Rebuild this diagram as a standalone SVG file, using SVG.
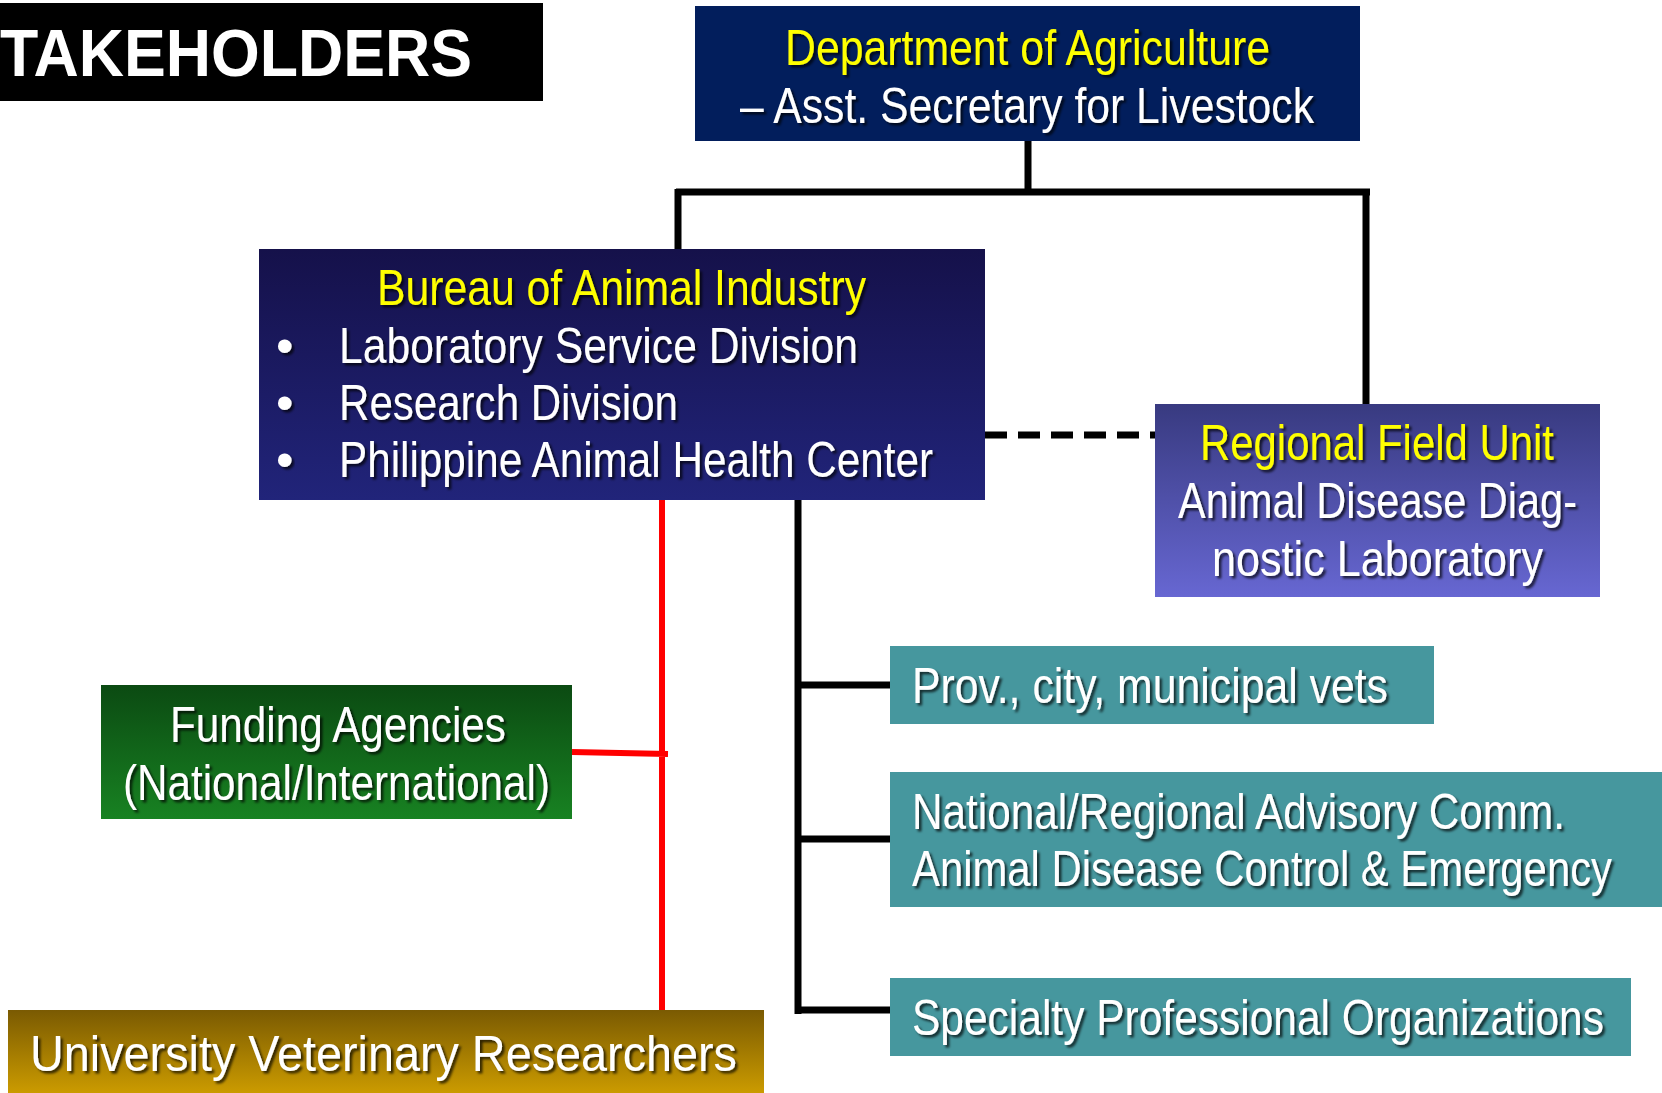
<svg xmlns="http://www.w3.org/2000/svg" width="1662" height="1093" viewBox="0 0 1662 1093">
<defs>
<linearGradient id="gBai" x1="0" y1="0" x2="0" y2="1"><stop offset="0" stop-color="#15114a"/><stop offset="1" stop-color="#21247a"/></linearGradient>
<linearGradient id="gRfu" x1="0" y1="0" x2="0" y2="1"><stop offset="0" stop-color="#383a80"/><stop offset="1" stop-color="#6767d2"/></linearGradient>
<linearGradient id="gFund" x1="0" y1="0" x2="0" y2="1"><stop offset="0" stop-color="#0b4a12"/><stop offset="1" stop-color="#188222"/></linearGradient>
<linearGradient id="gUni" x1="0" y1="0" x2="0" y2="1"><stop offset="0" stop-color="#7a5a02"/><stop offset="1" stop-color="#cb9b00"/></linearGradient>
<filter id="sh" x="-5%" y="-20%" width="110%" height="140%"><feDropShadow dx="2.5" dy="2.5" stdDeviation="1.2" flood-color="#000" flood-opacity="0.7"/></filter>
</defs>
<style>
.t{font-family:"Liberation Sans Narrow","Arial Narrow","Liberation Sans",sans-serif;font-size:50px;filter:url(#sh)}
.w{fill:#ffffff}
.y{fill:#ffff00}
.ln{stroke:#000;stroke-width:7;fill:none}
.red{stroke:#ff0000;stroke-width:6;fill:none}
.teal{fill:#46979e}
</style>
<rect width="1662" height="1093" fill="#ffffff"/>

<g id="title">
<rect x="0" y="3" width="543" height="98" fill="#000"/>
<text x="0" y="76" font-family="Liberation Sans,Arial,sans-serif" font-weight="bold" font-size="66" fill="#fff" textLength="472" lengthAdjust="spacingAndGlyphs">TAKEHOLDERS</text>
</g>

<g id="connectors">
<path class="ln" d="M1028,141 V193 M676,192 H1370 M678,189 V249 M1366,189 V404"/>
<path class="ln" d="M985,435 H1155" stroke-dasharray="22,11"/>
<path class="ln" d="M798,500 V1014 M795,685 H890 M795,839 H890 M795,1010 H890"/>
<path class="red" d="M662,500 V1010 M572,752 L668,754"/>
</g>

<g id="da">
<rect x="695" y="6" width="665" height="135" fill="#021e5c"/>
<text class="t y" x="785" y="65" textLength="485" lengthAdjust="spacingAndGlyphs">Department of Agriculture</text>
<text class="t w" x="740" y="123" textLength="574" lengthAdjust="spacingAndGlyphs">– Asst. Secretary for Livestock</text>
</g>

<g id="bai">
<rect x="259" y="249" width="726" height="251" fill="url(#gBai)"/>
<text class="t y" x="377" y="305" textLength="489" lengthAdjust="spacingAndGlyphs">Bureau of Animal Industry</text>
<text class="t w" x="276" y="363">•</text>
<text class="t w" x="339" y="363" textLength="519" lengthAdjust="spacingAndGlyphs">Laboratory Service Division</text>
<text class="t w" x="276" y="420">•</text>
<text class="t w" x="339" y="420" textLength="339" lengthAdjust="spacingAndGlyphs">Research Division</text>
<text class="t w" x="276" y="477">•</text>
<text class="t w" x="339" y="477" textLength="594" lengthAdjust="spacingAndGlyphs">Philippine Animal Health Center</text>
</g>

<g id="rfu">
<rect x="1155" y="404" width="445" height="193" fill="url(#gRfu)"/>
<text class="t y" x="1200" y="460" textLength="354" lengthAdjust="spacingAndGlyphs">Regional Field Unit</text>
<text class="t w" x="1178" y="518" textLength="399" lengthAdjust="spacingAndGlyphs">Animal Disease Diag-</text>
<text class="t w" x="1212" y="576" textLength="331" lengthAdjust="spacingAndGlyphs">nostic Laboratory</text>
</g>

<g id="funding">
<rect x="101" y="685" width="471" height="134" fill="url(#gFund)"/>
<text class="t w" x="170" y="742" textLength="336" lengthAdjust="spacingAndGlyphs">Funding Agencies</text>
<text class="t w" x="123" y="800" textLength="427" lengthAdjust="spacingAndGlyphs">(National/International)</text>
</g>

<g id="university">
<rect x="8" y="1010" width="756" height="83" fill="url(#gUni)"/>
<text class="t w" x="30" y="1071" textLength="707" lengthAdjust="spacingAndGlyphs">University Veterinary Researchers</text>
</g>

<g id="prov">
<rect class="teal" x="890" y="646" width="544" height="78"/>
<text class="t w" x="912" y="703" textLength="476" lengthAdjust="spacingAndGlyphs">Prov., city, municipal vets</text>
</g>

<g id="advisory">
<rect class="teal" x="890" y="772" width="772" height="135"/>
<text class="t w" x="912" y="829" textLength="653" lengthAdjust="spacingAndGlyphs">National/Regional Advisory Comm.</text>
<text class="t w" x="912" y="886" textLength="700" lengthAdjust="spacingAndGlyphs">Animal Disease Control &amp; Emergency</text>
</g>

<g id="specialty">
<rect class="teal" x="890" y="978" width="741" height="78"/>
<text class="t w" x="912" y="1035" textLength="692" lengthAdjust="spacingAndGlyphs">Specialty Professional Organizations</text>
</g>
</svg>
